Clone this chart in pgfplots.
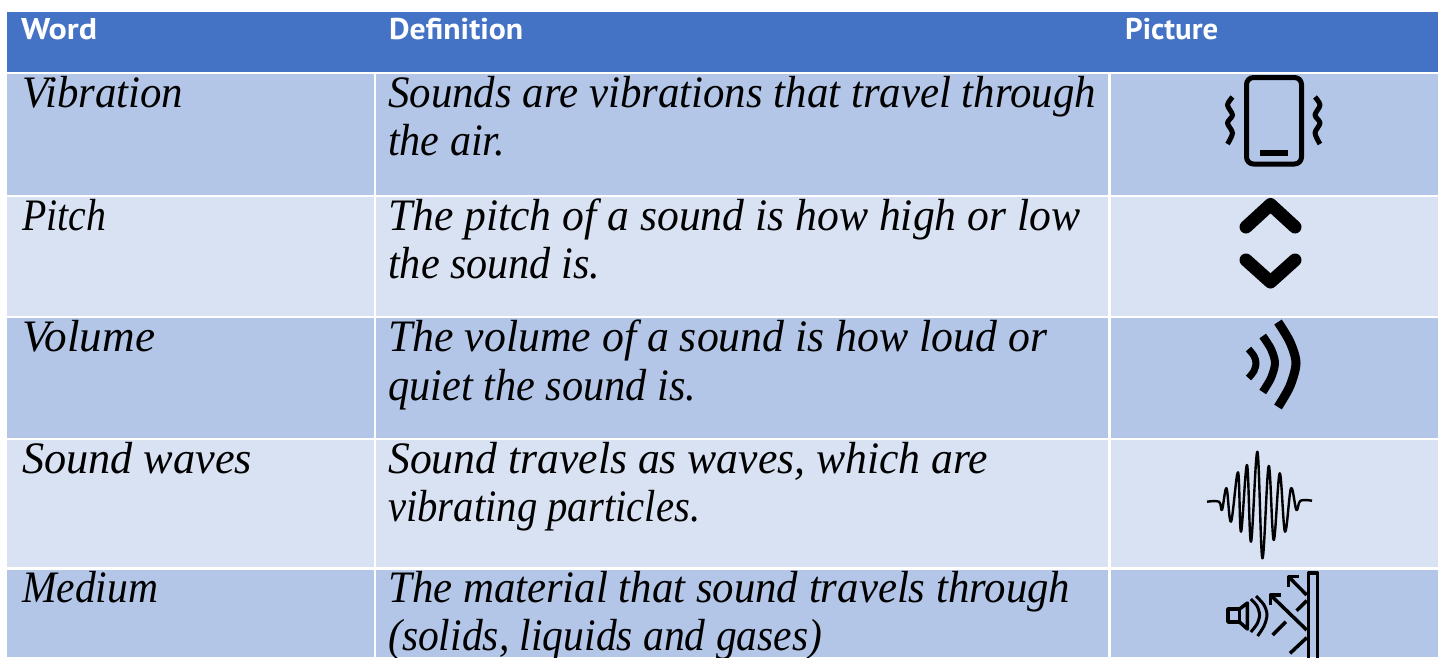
\documentclass[border=0pt]{standalone}
\usepackage{pgfplots}
\pgfplotsset{compat=1.18}
\usepackage{fontspec}
\usepackage{graphicx}
\setmainfont{Liberation Serif}
\newfontfamily\headfont{PT Sans}
\definecolor{hdr}{HTML}{4472C4}
\definecolor{dark}{HTML}{B3C6E7}
\definecolor{light}{HTML}{D9E2F3}
\newcommand{\body}[4]{\node[anchor=base west,inner sep=0pt,text=black] at (axis cs:#1,#2)
  {\resizebox{#3pt}{\height}{\fontsize{45}{50}\selectfont\itshape #4}};}
\newcommand{\head}[4]{\node[anchor=base west,inner sep=0pt,text=white] at (axis cs:#1,#2)
  {\resizebox{#3pt}{\height}{\fontsize{30}{32}\selectfont\headfont\bfseries #4}};}
\begin{document}
\begin{tikzpicture}
\begin{axis}[
  scale only axis, width=1443pt, height=657pt,
  xmin=0, xmax=1443, ymin=0, ymax=657, y dir=reverse,
  hide axis, clip=true,
  every axis plot/.append style={line cap=butt,line join=round},
]
% row bands
\addplot[fill=hdr,draw=none] coordinates {(7,12)(1438,12)(1438,71.5)(7,71.5)} --cycle;
\addplot[fill=dark,draw=none] coordinates {(7,74)(373.5,74)(373.5,195)(7,195)} --cycle;
\addplot[fill=dark,draw=none] coordinates {(376,74)(1108,74)(1108,195)(376,195)} --cycle;
\addplot[fill=dark,draw=none] coordinates {(1110.5,74)(1438,74)(1438,195)(1110.5,195)} --cycle;
\addplot[fill=light,draw=none] coordinates {(7,197)(373.5,197)(373.5,316)(7,316)} --cycle;
\addplot[fill=light,draw=none] coordinates {(376,197)(1108,197)(1108,316)(376,316)} --cycle;
\addplot[fill=light,draw=none] coordinates {(1110.5,197)(1438,197)(1438,316)(1110.5,316)} --cycle;
\addplot[fill=dark,draw=none] coordinates {(7,318)(373.5,318)(373.5,437.5)(7,437.5)} --cycle;
\addplot[fill=dark,draw=none] coordinates {(376,318)(1108,318)(1108,437.5)(376,437.5)} --cycle;
\addplot[fill=dark,draw=none] coordinates {(1110.5,318)(1438,318)(1438,437.5)(1110.5,437.5)} --cycle;
\addplot[fill=light,draw=none] coordinates {(7,440)(373.5,440)(373.5,567)(7,567)} --cycle;
\addplot[fill=light,draw=none] coordinates {(376,440)(1108,440)(1108,567)(376,567)} --cycle;
\addplot[fill=light,draw=none] coordinates {(1110.5,440)(1438,440)(1438,567)(1110.5,567)} --cycle;
\addplot[fill=dark,draw=none] coordinates {(7,569.5)(373.5,569.5)(373.5,657)(7,657)} --cycle;
\addplot[fill=dark,draw=none] coordinates {(376,569.5)(1108,569.5)(1108,657)(376,657)} --cycle;
\addplot[fill=dark,draw=none] coordinates {(1110.5,569.5)(1438,569.5)(1438,657)(1110.5,657)} --cycle;

% phone icon
\addplot[black,line width=5pt,rounded corners=7pt] coordinates {(1246.5,77.5)(1301.5,77.5)(1301.5,164)(1246.5,164)} --cycle;
\addplot[black,line width=5.5pt] coordinates {(1260,153)(1288,153)};
\addplot[black,line width=5pt,smooth] coordinates {(1232.5,97)(1227.5,105)(1232.5,115)(1227.5,123)(1232.5,133)(1227.5,144)};
\addplot[black,line width=5pt,smooth] coordinates {(1315,97)(1320,105)(1315,115)(1320,123)(1315,133)(1320,144)};
% chevrons
\addplot[black,line width=13pt,line cap=round] coordinates {(1246,227)(1270.5,204.5)(1295,227)};
\addplot[black,line width=13pt,line cap=round] coordinates {(1246,260)(1270.5,282)(1295,260)};
% volume
\addplot[black,line width=7pt,smooth] coordinates {(1248.5,349)(1254,356)(1256,363)(1254,371)(1248.5,378)};
\addplot[black,line width=8pt,smooth] coordinates {(1262.7,336)(1271,349)(1275,363)(1271,378)(1262.7,392)};
\addplot[black,line width=9pt,smooth] coordinates {(1278,322)(1290,342)(1296,363)(1290,386)(1278,407)};
% wave
\addplot[black,line width=2.4pt,smooth,tension=0.6] coordinates {
 (1207,501.7)(1219,501.7)(1222,510)(1226.5,488.3)(1231,521.7)(1238,472.3)(1241,531.7)
 (1247,465)(1251,541.7)(1257.4,451.7)(1262.4,558.3)(1268.7,466)(1273.7,540)(1279.7,473.3)
 (1285,531.7)(1291,488.3)(1296.4,510)(1300.4,500.7)(1312,500.7)};
% medium icon
\addplot[black,line width=3.5pt] coordinates {(1308.5,660)(1308.5,573)(1317.5,573)(1317.5,660)};
\addplot[black,line width=3.5pt] coordinates {(1239.5,609)(1228,609)(1228,622)(1239.5,622)} --cycle;
\addplot[black,line width=3.5pt] coordinates {(1239.5,609)(1247.4,603)(1247.4,629)(1239.5,622)};
\addplot[black,line width=3pt,smooth] coordinates {(1250.8,599)(1257,606)(1259.6,615)(1257,624)(1250.8,632)};
\addplot[black,line width=3pt,smooth] coordinates {(1256,596)(1264,605)(1267,615)(1264,626)(1257.6,636)};
\addplot[black,line width=3.5pt] coordinates {(1306.7,630)(1270.5,595)};
\addplot[black,line width=3.5pt] coordinates {(1270.5,605)(1270.5,595)(1281,595)};
\addplot[black,line width=3.5pt] coordinates {(1306.7,595)(1288.5,576.7)};
\addplot[black,line width=3.5pt] coordinates {(1288.5,586.7)(1288.5,576.7)(1298.5,576.7)};
\addplot[black,line width=3.5pt] coordinates {(1296.5,610.7)(1306.7,600.7)};
\addplot[black,line width=3.5pt] coordinates {(1272.5,635)(1285.8,621.7)};
\addplot[black,line width=3.5pt] coordinates {(1290,653.3)(1306.7,637.7)};

% header text
\head{21}{39}{76}{Word}
\head{389}{39}{134}{Definition}
\head{1125}{39}{93}{Picture}
% words
\body{22}{107}{161}{Vibration}
\body{22}{230}{84}{Pitch}
\body{22}{351}{133}{Volume}
\body{22}{473}{230}{Sound waves}
\body{22}{602}{136}{Medium}
% definitions
\body{388}{107}{708}{Sounds are vibrations that travel through}
\body{388}{155}{117}{the air.}
\body{388}{230}{692}{The pitch of a sound is how high or low}
\body{388}{278}{212}{the sound is.}
\body{388}{351}{659}{The volume of a sound is how loud or}
\body{388}{400}{308}{quiet the sound is.}
\body{388}{473}{600}{Sound travels as waves, which are}
\body{388}{521}{312}{vibrating particles.}
\body{388}{602}{682}{The material that sound travels through}
\body{388}{650}{434}{(solids, liquids and gases)}
\end{axis}
\pgfresetboundingbox
\path[use as bounding box] (0,0) rectangle (1443pt,657pt);
\end{tikzpicture}
\end{document}
